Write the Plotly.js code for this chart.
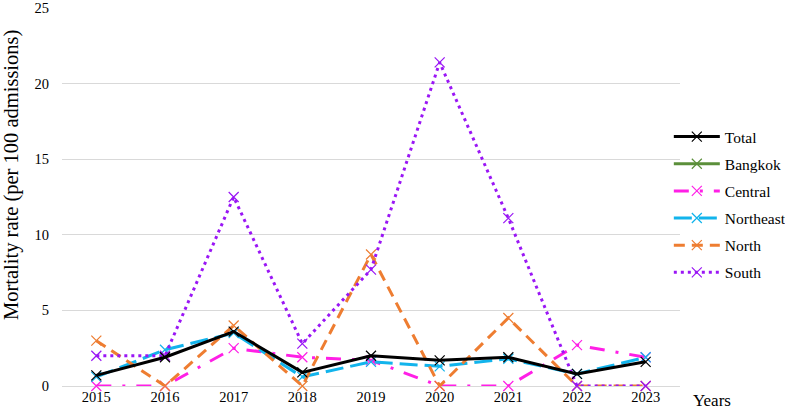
<!DOCTYPE html>
<html>
<head>
<meta charset="utf-8">
<script src="https://cdn.plot.ly/plotly-3.0.1.min.js"></script>
<style>
  html, body { margin: 0; padding: 0; background: #fff; }
  #chart { width: 785px; height: 411px; }
</style>
</head>
<body>
<div id="chart"></div>
<script>
// Years on the horizontal axis
const years = ['2015', '2016', '2017', '2018', '2019', '2020', '2021', '2022', '2023'];

// Mortality rate per 100 admissions, by region
const total     = [0.7, 1.9, 3.6, 0.9, 2.0, 1.7, 1.9, 0.8, 1.6];
const bangkok   = [null, null, null, null, null, null, null, null, null];
const central   = [0.0, 0.0, 2.5, 1.9, 1.7, 0.0, 0.0, 2.7, 1.9];
const northeast = [0.6, 2.4, 3.5, 0.6, 1.6, 1.3, 1.8, 0.8, 1.9];
const north     = [3.0, 0.0, 4.0, 0.0, 8.7, 0.0, 4.5, 0.0, 0.0];
const south     = [2.0, 2.0, 12.5, 2.8, 7.7, 21.4, 11.1, 0.0, 0.0];

const yTicks = [0, 5, 10, 15, 20, 25];

const serif = 'Liberation Serif';

function series(name, values, color, dash, rank) {
  return {
    type: 'scatter',
    mode: 'lines+markers',
    name: name,
    legendgroup: name,
    legendrank: rank,
    x: years,
    y: values,
    line: { color: color, width: 3, dash: dash },
    marker: { symbol: 'x-thin-open', size: 10, color: color, line: { color: color, width: 1.2 } },
    cliponaxis: false
  };
}

// Regional lines first, Total last so it sits on top
const traces = [
  series('Bangkok', bangkok, '#5b8f3a', 'solid', 2),
  series('Central', central, '#ff1fe6', '15px,11px,3px,11px', 3),
  series('Northeast', northeast, '#12b4ec', '18px,7px', 4),
  series('North', north, '#ee7d31', '11px,7px', 5),
  series('South', south, '#9a16f5', '3px,4px', 6),
  series('Total', total, '#000000', 'solid', 1)
];

const layout = {
  width: 785,
  height: 411,
  margin: { l: 62, r: 105, t: 8, b: 25, autoexpand: false },
  paper_bgcolor: '#ffffff',
  plot_bgcolor: '#ffffff',
  font: { family: serif, size: 14.5, color: '#000000' },
  showlegend: true,
  legend: {
    xref: 'container', yref: 'container',
    x: 0.852, xanchor: 'left',
    y: 0.708, yanchor: 'top',
    font: { family: serif, size: 15.5, color: '#000000' },
    traceorder: 'grouped',
    tracegroupgap: 4,
    itemwidth: 46,
    bgcolor: 'rgba(255,255,255,0)'
  },
  xaxis: {
    type: 'category',
    range: [-0.5, 8.5],
    showgrid: false,
    showline: false,
    zeroline: false,
    ticks: '',
    tickfont: { family: serif, size: 14.5, color: '#000000' },
    fixedrange: true
  },
  yaxis: {
    range: [0, 25],
    tickvals: yTicks,
    ticktext: yTicks.map(String),
    showgrid: true,
    gridcolor: '#d9d9d9',
    gridwidth: 1,
    zeroline: true,
    zerolinecolor: '#d9d9d9',
    zerolinewidth: 1,
    showline: false,
    ticks: '',
    ticklabelstandoff: 12,
    tickfont: { family: serif, size: 14.5, color: '#000000' },
    fixedrange: true
  },
  annotations: [
    {
      text: 'Mortality rate (per 100 admissions)',
      xref: 'paper', yref: 'paper',
      x: 0, xshift: -50, y: (386 - 175) / 378,
      xanchor: 'center', yanchor: 'middle',
      textangle: -90,
      showarrow: false,
      font: { family: serif, size: 20.5, color: '#000000' }
    },
    {
      text: 'Years',
      xref: 'paper', yref: 'paper',
      x: 1.017, y: 0, xanchor: 'left', yanchor: 'top', yshift: -3,
      showarrow: false,
      font: { family: serif, size: 17, color: '#000000' }
    }
  ]
};

Plotly.newPlot('chart', traces, layout, { displayModeBar: false, staticPlot: true });
</script>
</body>
</html>
